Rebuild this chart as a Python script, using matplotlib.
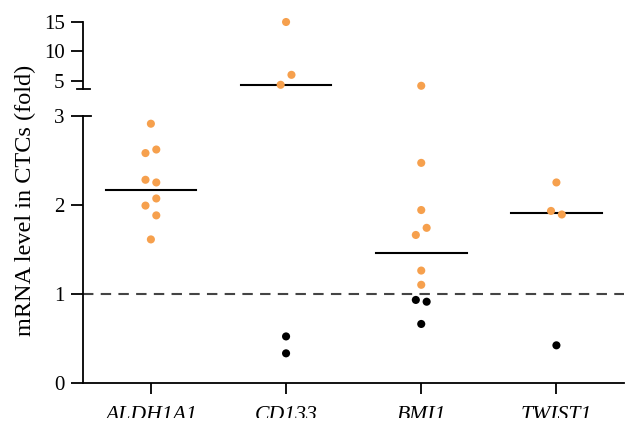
import matplotlib
matplotlib.use("Agg")
import matplotlib.pyplot as plt
from matplotlib.patches import Rectangle

plt.rcParams['font.family'] = ['Liberation Serif', 'DejaVu Serif']

genes = ['ALDH1A1', 'CD133', 'BMI1', 'TWIST1']

# fold change values per gene
aldh1a1 = [2.91, 2.58, 2.62, 2.28, 2.25, 2.07, 1.99, 1.88, 1.61]
cd133 = [15.0, 5.97, 4.27, 0.52, 0.33]
bmi1 = [4.10, 2.47, 1.94, 1.74, 1.66, 1.26, 1.10, 0.93, 0.91, 0.66]
twist1 = [2.25, 1.93, 1.89, 0.42]

# horizontal line per gene
centre_lines = [2.165, 4.27, 1.46, 1.91]

# side of the column each dot sits on (-1 left, 0 centre, 1 right)
aldh1a1_side = [0, -1, 1, -1, 1, 1, -1, 1, 0]
cd133_side = [0, 1, -1, 0, 0]
bmi1_side = [0, 0, 0, 1, -1, 0, 0, -1, 1, 0]
twist1_side = [0, -1, 1, 0]

values = [aldh1a1, cd133, bmi1, twist1]
sides = [aldh1a1_side, cd133_side, bmi1_side, twist1_side]

ORANGE = '#F6A04D'
BREAK = 3.0
JIT = 0.04

fig = plt.figure(figsize=(6.39, 4.32), dpi=100)
left, right = 83.3 / 639, 624 / 639
ax_top = fig.add_axes([left, 1 - 88.7 / 432, right - left, (88.7 - 22) / 432])
ax_bot = fig.add_axes([left, 1 - 382.7 / 432, right - left, (382.7 - 115.7) / 432])

for i, (vals, sd) in enumerate(zip(values, sides)):
    for v, s in zip(vals, sd):
        color = ORANGE if v >= 1 else 'black'
        ax = ax_top if v > BREAK else ax_bot
        ax.scatter(i + s * JIT, v, s=34, color=color, edgecolors='none',
                   zorder=3, clip_on=False)
    ax = ax_top if centre_lines[i] > BREAK else ax_bot
    ax.plot([i - 0.335, i + 0.335], [centre_lines[i]] * 2, color='black',
            lw=1.5, zorder=2, clip_on=False)

ax_bot.axhline(1, color='#444444', lw=1.5, ls=(0, (5, 3.5)), zorder=1)

for ax in (ax_top, ax_bot):
    ax.set_xlim(-0.5, 3.5)
    for side in ('top', 'right'):
        ax.spines[side].set_visible(False)
    ax.spines['left'].set_linewidth(1.3)
    ax.tick_params(axis='y', length=8.5, width=1.3, labelsize=15, pad=5)

ax_top.set_ylim(3.6, 15)
ax_top.set_yticks([5, 10, 15])
ax_top.spines['bottom'].set_visible(False)
ax_top.set_xticks([])

ax_bot.set_ylim(0, 3)
ax_bot.set_yticks([0, 1, 2, 3])
ax_bot.spines['bottom'].set_linewidth(1.3)
ax_bot.set_xticks(range(len(genes)))
ax_bot.set_xticklabels(genes, fontstyle='italic')
ax_bot.tick_params(axis='x', length=8, width=1.3, labelsize=15.7, pad=9)

# break caps on the y axis
ax_top.plot([-0.012, 0.012], [0, 0], transform=ax_top.transAxes,
            color='black', lw=1.3, clip_on=False)
ax_bot.plot([0, 0.014], [1, 1], transform=ax_bot.transAxes,
            color='black', lw=1.3, clip_on=False)

fig.text(25 / 639, 1 - 200 / 432, 'mRNA level in CTCs (fold)', rotation=90,
         ha='center', va='center', fontsize=17.5)

# the original is cropped just under the gene names
fig.patches.append(Rectangle((0, 0), 1, 14 / 432, transform=fig.transFigure,
                             facecolor='white', edgecolor='none', zorder=10))

fig.savefig('out.png', dpi=100)
